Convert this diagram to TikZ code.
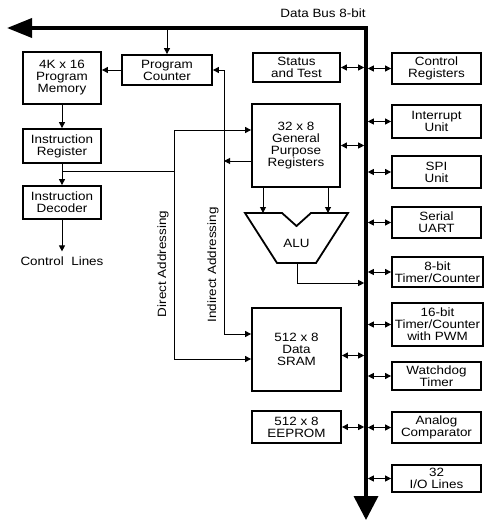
\documentclass[tikz,border=0pt]{standalone}
\usepackage{fontspec}
\setmainfont{Liberation Sans}[FakeStretch=1.12]
\usetikzlibrary{arrows.meta,calc}
\begin{document}
\begin{tikzpicture}[x=1pt,y=-1pt,
 box/.style={draw, line width=1.8pt, inner sep=0pt, align=center, font=\fontsize{12}{12}\selectfont},
 txt/.style={inner sep=0pt, font=\fontsize{12}{12}\selectfont},
 conn/.style={line width=1pt},
 arr/.style={conn, -{Triangle[length=6pt,width=6pt]}},
 darr/.style={conn, {Triangle[length=6pt,width=6pt]}-{Triangle[length=6pt,width=6pt]}},
 bus/.style={line width=3.6pt, line join=miter, {Triangle[length=25pt,width=19pt]}-{Triangle[length=24pt,width=24pt]}}
]
\useasboundingbox (0,0) rectangle (489,525);

% bus
\coordinate (busW) at (7,28);
\coordinate (busC) at (366,28);
\coordinate (busS) at (366,520);
\draw[bus] (busW) -- (busC) -- (busS);
\coordinate (bl) at (364.2,0);
\coordinate (br) at (367.8,0);
\coordinate (bt) at (0,29.8);
\node[txt] (dbus) at (323,13) {Data Bus 8-bit};

% left column
\node[box, minimum width=78pt, minimum height=52pt] (pm) at (62,78) {4K x 16\\Program\\Memory};
\node[box, minimum width=90pt, minimum height=30pt] (pc) at (167,70) {Program\\Counter};
\node[box, minimum width=78pt, minimum height=34pt] (ir) at (62,146) {Instruction\\Register};
\node[box, minimum width=78pt, minimum height=33pt] (id) at (62,202.5) {Instruction\\Decoder};
\node[txt] (cl) at (62,261) {Control\ \ Lines};

% middle column
\node[box, minimum width=87pt, minimum height=29pt] (st) at (296.5,67.5) {Status\\and Test};
\node[box, minimum width=88pt, minimum height=83pt] (gpr) at (296,145.5) {32 x 8\\General\\Purpose\\Registers};
\node[box, minimum width=89pt, minimum height=83pt] (sram) at (296.5,349.5) {512 x 8\\Data\\SRAM};
\node[box, minimum width=89pt, minimum height=32pt] (eep) at (296.5,427) {512 x 8\\EEPROM};

% ALU
\coordinate (aluA) at (263,213);
\coordinate (aluB) at (328,213);
\coordinate (aluout) at (297,263);
\draw[line width=1.8pt, line join=miter] (245,213) -- (282,213) -- (296.5,226) -- (311,213) -- (348,213) -- (316,263) -- (277,263) -- cycle;
\node[txt] (alu) at (296.5,243) {ALU};

% right column
\node[box, minimum width=89pt, minimum height=31pt] (cr) at (436.5,68.5) {Control\\Registers};
\node[box, minimum width=89pt, minimum height=33pt] (iu) at (436.5,121.5) {Interrupt\\Unit};
\node[box, minimum width=89pt, minimum height=32pt] (spi) at (436.5,172) {SPI\\Unit};
\node[box, minimum width=89pt, minimum height=31pt] (uart) at (436.5,222.5) {Serial\\UART};
\node[box, minimum width=91pt, minimum height=30pt] (t8) at (437.5,272) {8-bit\\Timer/Counter};
\node[box, minimum width=91pt, minimum height=43pt] (t16) at (437.5,324.5) {16-bit\\Timer/Counter\\with PWM};
\node[box, minimum width=89pt, minimum height=28pt] (wd) at (436.5,376) {Watchdog\\Timer};
\node[box, minimum width=89pt, minimum height=31pt] (ac) at (436.5,427.5) {Analog\\Comparator};
\node[box, minimum width=89pt, minimum height=27pt] (io) at (436.5,478.5) {32\\I/O Lines};

% instruction path
\draw[arr] (pc.north |- bt) -- (pc.north);
\draw[arr] (pc.west) -- (pc.west -| pm.east);
\draw[arr] (pm.south) -- (ir.north);
\draw[arr] (ir.south) -- (id.north);
\draw[arr] (id.south) -- ([yshift=5pt]cl.north);

% addressing
\coordinate (j) at (62,171);
\coordinate (dd) at (174,359);
\coordinate (ii) at (224,334);
\draw[conn] (j) -- (j -| dd);
\draw[darr] ([yshift=15.5pt]gpr.west) -| (dd) -- (dd -| sram.west);
\draw[darr] (pc.east) -| (ii) -- (ii -| sram.west);
\draw[arr] ([yshift=-15.5pt]gpr.west) -- ([yshift=-15.5pt]gpr.west -| ii);
\node[txt, rotate=90] (dlab) at (163,264) {Direct Addressing};
\node[txt, rotate=90] (ilab) at (213,265) {Indirect Addressing};

% ALU connections
\draw[arr] ([xshift=-33pt]gpr.south) -- (aluA);
\draw[arr] ([xshift=32pt]gpr.south) -- (aluB);
\coordinate (ab) at (297,283);
\draw[arr] (aluout) -- (ab) -- (ab -| bl);

% bus connections, left
\foreach \n in {st,gpr,eep} \draw[darr] (\n.east) -- (\n.east -| bl);
\draw[darr] ([yshift=-6pt]sram.east) -- ([yshift=-6pt]sram.east -| bl);
% bus connections, right
\foreach \n in {cr,iu,spi,uart,t8,t16,wd,ac,io} \draw[darr] (\n.west -| br) -- (\n.west);
\end{tikzpicture}
\end{document}
